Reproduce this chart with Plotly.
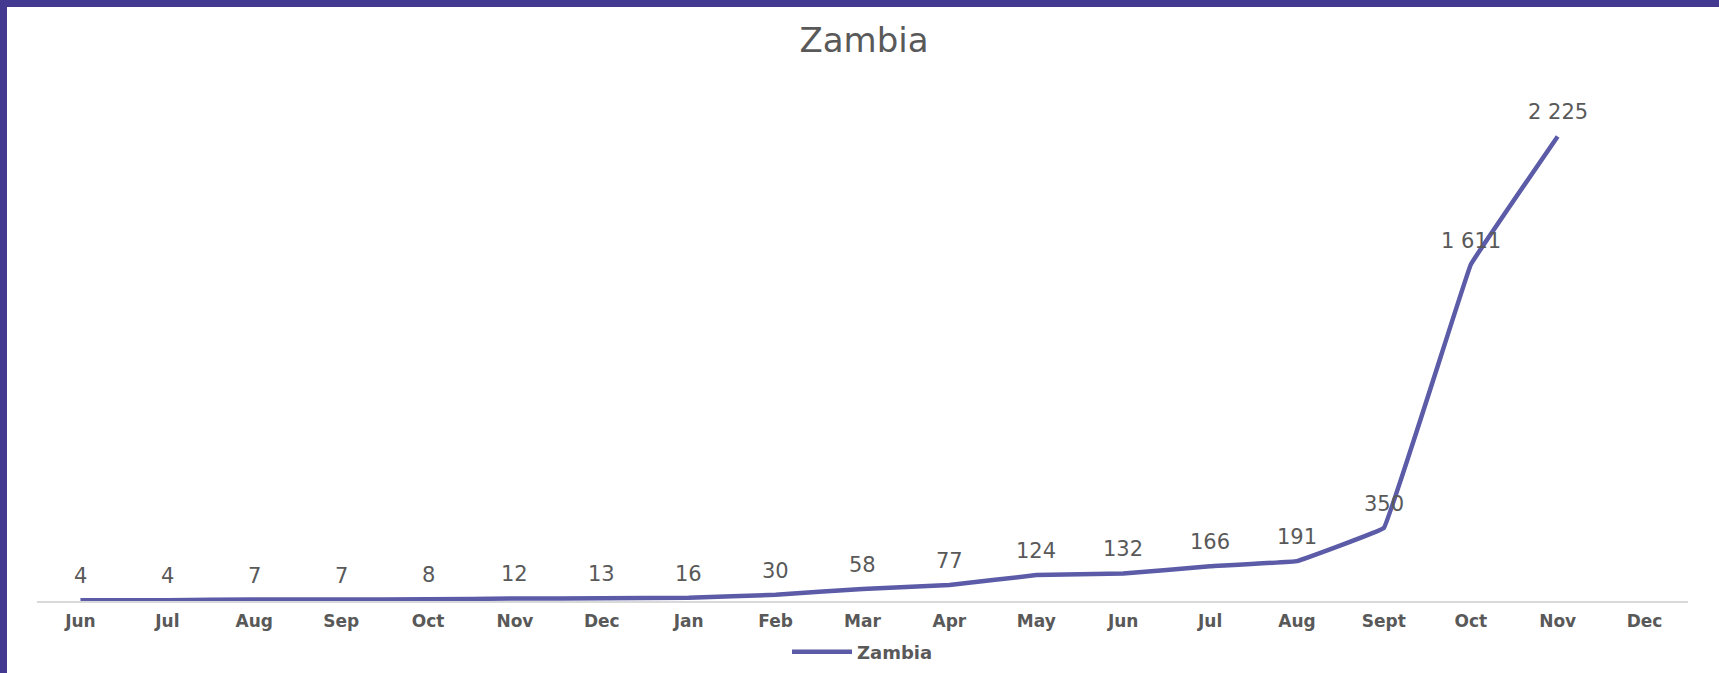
import plotly.graph_objects as go

tick_text = ["Jun", "Jul", "Aug", "Sep", "Oct", "Nov", "Dec", "Jan", "Feb", "Mar",
             "Apr", "May", "Jun", "Jul", "Aug", "Sept", "Oct", "Nov", "Dec"]
zambia = [4, 4, 7, 7, 8, 12, 13, 16, 30, 58, 77, 124, 132, 166, 191, 350, 1611, 2225]

W, H = 1719, 673
L, R, T, B = 37, 31, 79, 72
pw, ph = W - L - R, H - T - B

labels = [f"{v:,}".replace(",", " ") for v in zambia]
xs = list(range(len(zambia)))

fig = go.Figure()
fig.add_trace(go.Scatter(
    x=xs, y=zambia, mode="lines", name="Zambia",
    line=dict(color="#5b5ba8", width=4.5, shape="spline", smoothing=0.12),
    cliponaxis=False,
))

annotations = [
    dict(x=x, y=v, text=t, showarrow=False, xref="x", yref="y",
         yanchor="bottom", yshift=10,
         font=dict(family="DejaVu Sans", size=21, color="#595959"))
    for x, v, t in zip(xs, zambia, labels)
]

border = "#433990"
fig.update_layout(
    width=W, height=H,
    margin=dict(l=L, r=R, t=T, b=B, autoexpand=False),
    paper_bgcolor="white", plot_bgcolor="white",
    title=dict(text="Zambia", x=(864 - L) / pw, xref="paper", xanchor="center",
               y=1 - 40 / H, yanchor="middle",
               font=dict(family="DejaVu Sans", size=34, color="#595959")),
    xaxis=dict(range=[-0.5, 18.5], tickmode="array", tickvals=list(range(19)),
               ticktext=tick_text, showgrid=False, zeroline=False,
               showline=True, linecolor="#d9d9d9", linewidth=1.5, ticks="",
               ticklabelstandoff=4, automargin=False,
               tickfont=dict(family="DejaVu Sans", size=17, color="#595959", weight="bold")),
    yaxis=dict(range=[0, 2500], visible=False, showgrid=False, zeroline=False),
    showlegend=True,
    legend=dict(orientation="h", x=0.5, xanchor="center",
                yref="container", y=(H - 652) / H, yanchor="middle",
                bgcolor="rgba(0,0,0,0)", itemwidth=60,
                font=dict(family="DejaVu Sans", size=18, color="#595959", weight="bold")),
    annotations=annotations,
    shapes=[
        dict(type="rect", xref="paper", yref="paper",
             x0=-L / pw, x1=(W - L) / pw, y0=(601 - 7) / ph, y1=601 / ph,
             fillcolor=border, line=dict(width=0), layer="above"),
        dict(type="rect", xref="paper", yref="paper",
             x0=-L / pw, x1=(7 - L) / pw, y0=(601 - H) / ph, y1=601 / ph,
             fillcolor=border, line=dict(width=0), layer="above"),
    ],
)

fig.write_html("out.html", config={"displayModeBar": False},
               post_script="document.body.style.margin='0px';")
